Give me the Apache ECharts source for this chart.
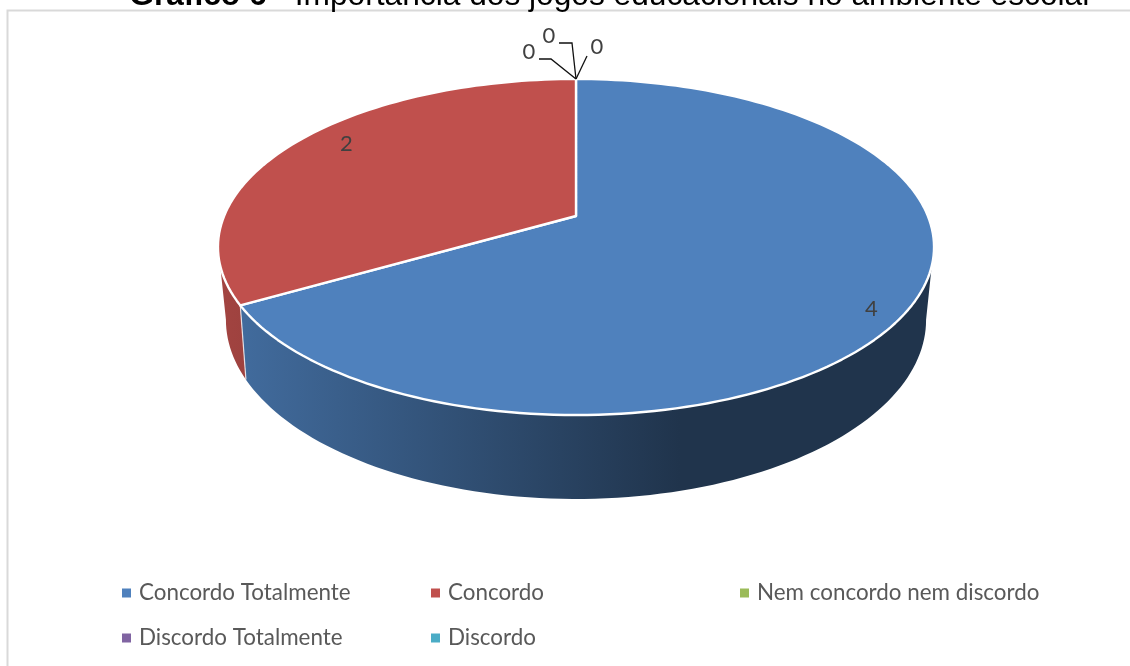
<!DOCTYPE html>
<html>
<head>
<meta charset="utf-8">
<style>html,body{margin:0;padding:0;background:#fff}#chart{width:1130px;height:666px}</style>
<script src="https://cdn.jsdelivr.net/npm/echarts@6/dist/echarts.min.js"></script>
</head>
<body>
<div id="chart"></div>
<script>
// Chart content
const categories = ['Concordo Totalmente', 'Concordo', 'Nem concordo nem discordo', 'Discordo Totalmente', 'Discordo'];
const responses = [4, 2, 0, 0, 0];
const sliceColors = ['#4f81bd', '#c0504d', '#9bbb59', '#8064a2', '#4bacc6'];
const titleBold = 'Gráfico 6 -';
const titleRest = ' Importância dos jogos educacionais no ambiente escolar';

// Perspective discs for the top face and the base of the pie
const topDisc = { cx: 576, cy: 216, a: 351.9, b: 162.3, k: -0.1845 };
const baseDisc = { cx: 576, cy: 284.2, a: 343, b: 171.8, k: -0.2 };
// Angles (clockwise from 12 o'clock) where the wall leaves the outline of each disc
const topVisible = [107, 253];
const baseVisible = [101.5, 258.5];

// Label placement relative to each slice: radial fraction and pixel offset
const labelPlacement = [
  { f: 0.89, dx: 0, dy: 14 },
  { f: 0.81, dx: 0, dy: -11 }
];
// Leader lines of the zero-value labels, relative to the point where the slices meet the rim
const zeroLeaders = [
  { text: [-47, -27], bend: [[-37, -20], [-25, -20]] },
  { text: [-27, -43], bend: [[-17, -36], [-4, -36]] },
  { text: [21, -32], bend: [[11, -23]] }
];

const total = responses.reduce((s, v) => s + v, 0);
const startAngles = responses.map((_, i) =>
  responses.slice(0, i).reduce((s, v) => s + v, 0) / total * 360);

function project(d, deg, r) {
  const t = deg * Math.PI / 180;
  const u = Math.sin(t) * (r === undefined ? 1 : r);
  const v = -Math.cos(t) * (r === undefined ? 1 : r);
  const w = 1 + d.k * v;
  return [d.cx + d.a * u / w, d.cy + d.b * v / w];
}

function arc(d, from, to) {
  const pts = [];
  const n = Math.max(2, Math.ceil(Math.abs(to - from) / 1.5));
  for (let i = 0; i <= n; i++) pts.push(project(d, from + (to - from) * i / n));
  return pts;
}

function shade(hex, f) {
  const c = [1, 3, 5].map(i => Math.round(parseInt(hex.substr(i, 2), 16) * f));
  return 'rgb(' + c.join(',') + ')';
}

function renderSlice(params, api) {
  const i = params.seriesIndex;
  const value = api.value(0);
  const color = sliceColors[i];
  const from = startAngles[i];
  const to = from + value / total * 360;
  const children = [];
  const apex = project(topDisc, 360);

  if (value > 0) {
    // Outer wall, shaded from left to right
    const t0 = Math.max(from, topVisible[0]), t1 = Math.min(to, topVisible[1]);
    const b0 = Math.max(from, baseVisible[0]), b1 = Math.min(to, baseVisible[1]);
    if (b1 > b0) {
      const wall = (t1 > t0 ? arc(topDisc, t0, t1) : []).concat(arc(baseDisc, b1, b0));
      children.push({
        type: 'polygon', z2: 1,
        shape: { points: wall },
        style: {
          fill: new echarts.graphic.LinearGradient(218, 0, 680, 0, [
            { offset: 0, color: shade(color, 0.85) },
            { offset: 1, color: shade(color, 0.4) }
          ], true)
        }
      });
      // Light seam where this slice's wall ends at the cut
      if (to < 360 && to > baseVisible[0] && to < baseVisible[1]) {
        const a = project(topDisc, to), b = project(baseDisc, to);
        children.push({
          type: 'line', z2: 2,
          shape: { x1: a[0], y1: a[1], x2: b[0], y2: b[1] },
          style: { stroke: 'rgba(255,255,255,0.75)', lineWidth: 1.2 }
        });
      }
    }
    // Top face
    const face = [[topDisc.cx, topDisc.cy]].concat(arc(topDisc, from, to));
    children.push({
      type: 'polygon', z2: 3,
      shape: { points: face },
      style: { fill: color, stroke: '#fff', lineWidth: 2.4, lineJoin: 'round' }
    });
    // Value label
    const place = labelPlacement[i];
    const p = project(topDisc, (from + to) / 2, place.f);
    children.push({
      type: 'text', z2: 5,
      style: {
        x: p[0] + place.dx, y: p[1] + place.dy, text: String(value),
        fill: '#404040', font: '22px Lato', align: 'center', verticalAlign: 'middle'
      }
    });
  } else {
    // Zero-value slices collapse onto the rim: label them through leader lines
    const leader = zeroLeaders[i - responses.findIndex(v => v === 0)];
    const line = leader.bend.map(b => [apex[0] + b[0], apex[1] + b[1]]).concat([apex]);
    children.push({
      type: 'polyline', z2: 4,
      shape: { points: line },
      style: { stroke: '#111', lineWidth: 1.3, fill: 'none' }
    });
    children.push({
      type: 'text', z2: 5,
      style: {
        x: apex[0] + leader.text[0], y: apex[1] + leader.text[1], text: String(value),
        fill: '#404040', font: '22px Lato', align: 'center', verticalAlign: 'middle'
      }
    });
  }
  return { type: 'group', children };
}

const legendSpots = [
  { left: 122, top: 582 }, { left: 431, top: 582 }, { left: 740, top: 582 },
  { left: 122, top: 627 }, { left: 431, top: 627 }
];

const chart = echarts.init(document.getElementById('chart'), null, { renderer: 'canvas' });
chart.setOption({
  animation: false,
  backgroundColor: '#fff',
  title: {
    left: 606, top: -25, textAlign: 'center',
    text: '{b|' + titleBold + '}{n|' + titleRest + '}',
    textStyle: {
      fontWeight: 'normal',
      rich: {
        b: { fontFamily: 'Liberation Sans', fontSize: 31.7, fontWeight: 'bold', color: '#000' },
        n: { fontFamily: 'Liberation Sans', fontSize: 31.7, fontWeight: 'normal', color: '#000' }
      }
    }
  },
  graphic: [{
    type: 'polyline', silent: true,
    shape: { points: [[7.5, 666], [7.5, 10.5], [1130, 10.5]] },
    style: { stroke: '#d9d9d9', lineWidth: 2, fill: 'none' }
  }],
  legend: categories.map((name, i) => ({
    data: [name],
    left: legendSpots[i].left,
    top: legendSpots[i].top,
    padding: 0,
    icon: 'rect',
    itemWidth: 9,
    itemHeight: 9,
    selectedMode: false,
    textStyle: { fontFamily: 'Lato', fontSize: 22.4, color: '#595959', padding: [0, 0, 0, 3] }
  })),
  series: categories.map((name, i) => ({
    type: 'custom',
    name,
    coordinateSystem: 'none',
    itemStyle: { color: sliceColors[i] },
    renderItem: renderSlice,
    data: [[responses[i]]],
    silent: true
  }))
});
</script>
</body>
</html>
